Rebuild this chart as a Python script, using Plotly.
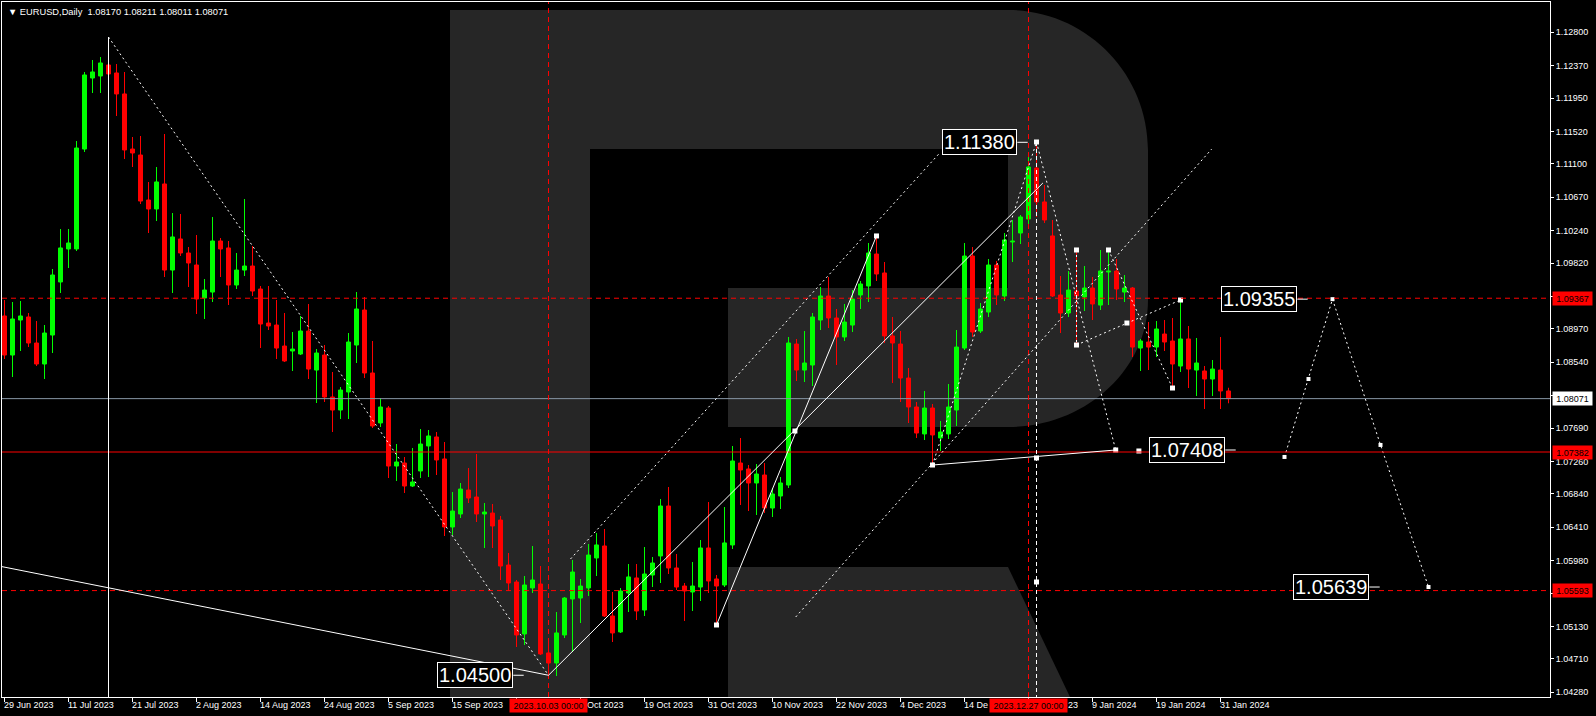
import plotly.graph_objects as go
import numpy as np

# ---------------- data ----------------
title_text = "EURUSD,Daily"
current_ohlc = ["1.08170", "1.08211", "1.08011", "1.08071"]

opens = [1.09138,1.08634,1.09086,1.09125,1.08789,1.08518,1.08892,1.09577,1.10003,1.10003,
 1.11293,1.12210,1.12236,1.12378,1.12275,1.12004,1.11293,1.11216,1.10635,1.10519,
 1.10842,1.09731,1.10132,1.09951,1.09796,1.09370,1.09447,1.10106,1.10016,1.09538,
 1.09731,1.09783,1.09486,1.09047,1.09021,1.08750,1.08686,1.08647,1.08944,1.08440,
 1.08634,1.08092,1.07924,1.08157,1.08763,1.09215,1.08402,1.07757,1.07950,1.07201,
 1.07240,1.06943,1.07137,1.07460,1.07576,1.07292,1.06414,1.06582,1.06891,1.06801,
 1.06582,1.06594,1.06504,1.05923,1.05704,1.05033,1.05627,1.05678,1.04788,1.04658,
 1.05020,1.05485,1.05497,1.05627,1.06014,1.06169,1.05265,1.05059,1.05562,1.05756,
 1.05342,1.05794,1.06040,1.06685,1.05885,1.05652,1.05575,1.05639,1.06143,1.05743,
 1.05665,1.06182,1.07240,1.07163,1.06982,1.07085,1.06659,1.06814,1.06956,1.08776,
 1.08440,1.08505,1.09086,1.09396,1.09112,1.08867,1.09021,1.09409,1.09525,1.09938,
 1.09693,1.08880,1.08776,1.08337,1.07963,1.07615,1.07950,1.07563,1.07615,1.07924,
 1.08724,1.09912,1.08944,1.09189,1.09796,1.09396,1.10093,1.10209,1.10390,1.11048,
 1.10610,1.10171,1.09409,1.09176,1.09460,1.09383,1.09499,1.09279,1.09706,1.09719,
 1.09447,1.09499,1.08724,1.08802,1.08737,1.08905,1.08815,1.08492,1.08841,1.08440,
 1.08428,1.08324,1.08440,1.08170]
highs = [1.09344,1.09318,1.09331,1.09176,1.09073,1.09021,1.09744,1.10261,1.10261,1.11397,
 1.12288,1.12442,1.12481,1.12739,1.12391,1.12288,1.11448,1.11461,1.10868,1.11061,
 1.11487,1.10467,1.10455,1.10028,1.10183,1.09615,1.10416,1.10145,1.10106,1.09951,
 1.10648,1.10041,1.09525,1.09525,1.09344,1.09176,1.08931,1.09138,1.09293,1.08711,
 1.08763,1.08415,1.08221,1.08918,1.09447,1.09383,1.08815,1.08079,1.07976,1.07485,
 1.07318,1.07434,1.07679,1.07666,1.07640,1.07511,1.06866,1.06982,1.07176,1.07356,
 1.06724,1.06711,1.06556,1.06078,1.05730,1.05781,1.06169,1.05910,1.04968,1.05317,
 1.05510,1.05988,1.05743,1.06195,1.06337,1.06388,1.05575,1.05627,1.05936,1.05936,
 1.06156,1.06027,1.06776,1.06930,1.06065,1.05691,1.05962,1.06246,1.06737,1.05794,
 1.06672,1.07460,1.07563,1.07214,1.07227,1.07240,1.06917,1.07059,1.08867,1.08841,
 1.08944,1.09176,1.09512,1.09641,1.09228,1.09293,1.09473,1.09590,1.10080,1.10171,
 1.09835,1.09125,1.08944,1.08466,1.08028,1.08170,1.08002,1.07782,1.08260,1.08957,
 1.10080,1.10028,1.09306,1.09874,1.09848,1.10209,1.10377,1.10442,1.11216,1.11384,
 1.10829,1.10377,1.09654,1.09719,1.09990,1.09783,1.09641,1.09990,1.09990,1.09874,
 1.09667,1.09512,1.08841,1.09060,1.09073,1.09086,1.09112,1.09344,1.09009,1.08854,
 1.08492,1.08570,1.08867,1.08211]
lows = [1.08583,1.08350,1.08686,1.08737,1.08492,1.08324,1.08660,1.09435,1.09757,1.09977,
 1.11255,1.12016,1.12016,1.12236,1.11720,1.11164,1.11061,1.10584,1.10209,1.10364,
 1.09641,1.09435,1.09912,1.09512,1.09163,1.09099,1.09318,1.09641,1.09279,1.09486,
 1.09654,1.09396,1.08724,1.08957,1.08583,1.08544,1.08428,1.08634,1.08324,1.08015,
 1.08028,1.07640,1.07808,1.07808,1.08531,1.08337,1.07692,1.07705,1.07046,1.07008,
 1.06853,1.06930,1.07046,1.07059,1.07085,1.06297,1.06310,1.06530,1.06724,1.06478,
 1.06143,1.06143,1.05730,1.05588,1.04865,1.04891,1.05562,1.04762,1.04478,1.04491,
 1.04981,1.04800,1.05175,1.05523,1.05781,1.05252,1.04929,1.05046,1.05317,1.05213,
 1.05265,1.05639,1.05691,1.05807,1.05601,1.05200,1.05330,1.05459,1.05562,1.05149,
 1.05639,1.06130,1.06698,1.06620,1.06569,1.06594,1.06543,1.06646,1.06917,1.08299,
 1.08286,1.08234,1.08957,1.08983,1.08505,1.08815,1.08931,1.09228,1.09318,1.09590,
 1.08789,1.08273,1.08028,1.07757,1.07563,1.07537,1.07214,1.07395,1.07550,1.07718,
 1.08699,1.08867,1.08918,1.09125,1.09279,1.09331,1.09835,1.10067,1.10274,1.10416,
 1.10338,1.09383,1.08918,1.09125,1.08763,1.09202,1.09086,1.09215,1.09279,1.09344,
 1.09318,1.08609,1.08428,1.08440,1.08609,1.08686,1.08208,1.08415,1.08208,1.08105,
 1.07937,1.08105,1.07937,1.08011]
closes = [1.08634,1.09099,1.09138,1.08789,1.08518,1.08918,1.09667,1.10016,1.10080,1.11306,
 1.12249,1.12288,1.12404,1.12262,1.12004,1.11281,1.11242,1.10622,1.10519,1.10868,
 1.09731,1.10158,1.09951,1.09822,1.09357,1.09473,1.10106,1.10003,1.09538,1.09731,
 1.09783,1.09460,1.09034,1.09009,1.08724,1.08557,1.08711,1.08944,1.08453,1.08660,
 1.08092,1.07924,1.08182,1.08802,1.09228,1.08402,1.07718,1.07963,1.07201,1.07253,
 1.06943,1.06995,1.07485,1.07589,1.07279,1.06414,1.06620,1.06904,1.06788,1.06582,
 1.06607,1.06427,1.05910,1.05691,1.05020,1.05665,1.05730,1.04775,1.04658,1.05046,
 1.05497,1.05833,1.05652,1.06052,1.06182,1.05265,1.05046,1.05588,1.05769,1.05330,
 1.05807,1.05949,1.06685,1.05885,1.05639,1.05588,1.05652,1.06143,1.05717,1.05652,
 1.06208,1.07266,1.07150,1.06982,1.07098,1.06659,1.06840,1.06982,1.08789,1.08440,
 1.08531,1.09125,1.09396,1.09112,1.08867,1.09060,1.09357,1.09551,1.09951,1.09680,
 1.08880,1.08789,1.08337,1.07963,1.07627,1.07950,1.07602,1.07640,1.07963,1.08737,
 1.09912,1.08931,1.09228,1.09796,1.09409,1.10119,1.10106,1.10416,1.11061,1.10610,
 1.10377,1.09396,1.09176,1.09473,1.09396,1.09499,1.09293,1.09719,1.09719,1.09486,
 1.09499,1.08737,1.08815,1.08737,1.08970,1.08802,1.08518,1.08841,1.08453,1.08531,
 1.08324,1.08453,1.08170,1.08071]

# date labels (bar index, visible text, extra pixel shift) - parts hidden by the
# crosshair labels in the original are not shown
date_tick_bars = [0, 8, 16, 24, 32, 40, 48, 56, 64, 72, 80, 88, 96, 104, 112, 120, 128, 136, 144, 152]
date_tick_labels = ["29 Jun 2023", "11 Jul 2023", "21 Jul 2023", "2 Aug 2023", "14 Aug 2023",
                    "24 Aug 2023", "5 Sep 2023", "15 Sep 2023", "", "Oct 2023",
                    "19 Oct 2023", "31 Oct 2023", "10 Nov 2023", "22 Nov 2023", "4 Dec 2023",
                    "14 De", "23", "9 Jan 2024", "19 Jan 2024", "31 Jan 2024"]
date_label_shift = {72: 7, 128: 40}

price_ticks = [1.12800, 1.12370, 1.11950, 1.11520, 1.11100, 1.10670, 1.10240, 1.09820, 1.09390,
               1.08970, 1.08540, 1.08110, 1.07690, 1.07260, 1.06840, 1.06410, 1.05980, 1.05560,
               1.05130, 1.04710, 1.04280]
hidden_price_ticks = [1.09390, 1.08110, 1.05560]

bid_price = 1.08071
level_upper = 1.09367
level_mid = 1.07382
level_lower = 1.05593

crosshair_bars = [68, 128]
crosshair_labels = ["2023.10.03 00:00", "2023.12.27 00:00"]

# projection path (bar index, price)
proj_bars = [160, 163, 166, 172, 178]
proj_prices = [1.07318, 1.08324, 1.09355, 1.07473, 1.05639]

# price labels drawn on chart: (text, price, right-edge bar)
label_values = [("1.11380", 1.11380, 126.6), ("1.04500", 1.04500, 63.6), ("1.09355", 1.09355, 161.6),
                ("1.07408", 1.07408, 152.6), ("1.05639", 1.05639, 170.6)]

# ---------------- geometry helpers ----------------
W, H = 1596, 716
L_M, R_M, T_M, B_M = 2, 46, 2, 19
PW, PH = W - L_M - R_M, H - T_M - B_M
XR = [-0.3125, -0.3125 + PW / 8.0]
YR = [1.042193, 1.131911]

def px(X):
    return (X - L_M) / PW

def py(Y):
    return (H - B_M - Y) / PH

o = np.array(opens); h = np.array(highs); l = np.array(lows); c = np.array(closes)
idx = np.arange(len(o))
up = c >= o
dn = ~up

GREEN = "#00FF00"
RED = "#FF0000"

fig = go.Figure()
for mask, col in ((up, GREEN), (dn, RED)):
    fig.add_trace(go.Bar(x=idx[mask], y=(h - l)[mask], base=l[mask], width=0.125,
                         marker=dict(color=col, line=dict(width=0)), hoverinfo="skip"))
for mask, col in ((up, GREEN), (dn, RED)):
    fig.add_trace(go.Bar(x=idx[mask], y=np.abs(c - o)[mask], base=np.minimum(o, c)[mask], width=0.5,
                         marker=dict(color=col, line=dict(color=col, width=1)), hoverinfo="skip"))

shapes = []

# watermark "R" logo (decorative, paper coordinates)
k = 0.552
path = f"M {px(450)},{py(10)} L {px(1008)},{py(10)} "
path += f"C {px(1008 + k*140)},{py(10)} {px(1148)},{py(150 - k*140)} {px(1148)},{py(150)} "
path += f"L {px(1148)},{py(300)} "
path += f"C {px(1148)},{py(300 + k*127)} {px(1008 + k*140)},{py(427)} {px(1008)},{py(427)} "
path += f"L {px(728)},{py(427)} L {px(728)},{py(288)} L {px(1008)},{py(288)} L {px(1008)},{py(149)} "
path += f"L {px(590)},{py(149)} L {px(590)},{py(697)} L {px(450)},{py(697)} Z"
shapes.append(dict(type="path", xref="paper", yref="paper", path=path,
                   fillcolor="#262626", line=dict(width=0), layer="below"))
leg = (f"M {px(728)},{py(567)} L {px(1008)},{py(567)} L {px(1070)},{py(697)} "
       f"L {px(728)},{py(697)} Z")
shapes.append(dict(type="path", xref="paper", yref="paper", path=leg,
                   fillcolor="#262626", line=dict(width=0), layer="below"))

def hline(p, color, dash="solid"):
    shapes.append(dict(type="line", xref="paper", yref="y", x0=0, x1=1, y0=p, y1=p,
                       line=dict(color=color, width=1, dash=dash), layer="above"))

hline(bid_price, "#8796A5")
hline(level_mid, RED)
hline(level_upper, RED, "5px,4px")
hline(level_lower, RED, "5px,4px")

for b in crosshair_bars:
    shapes.append(dict(type="line", xref="x", yref="paper", x0=b, x1=b, y0=0, y1=1,
                       line=dict(color=RED, width=1, dash="5px,4px"), layer="above"))

def seg(x0, y0, x1, y1, dash="solid", color="white"):
    shapes.append(dict(type="line", xref="x", yref="y", x0=x0, y0=y0, x1=x1, y1=y1,
                       line=dict(color=color, width=1, dash=dash), layer="above"))

DOT = "2px,3px"
ybot = YR[0]
seg(13, highs[13], 13, ybot)                       # vertical at July top
seg(13, highs[13], 68, 1.04500, DOT)                 # fall leg
seg(XR[0], 1.05902, 68, 1.04500)                     # long support line
seg(68, 1.04500, 129.8, 1.10855)                     # growth line
seg(70.75, 1.06001, 116.9, 1.11242, DOT)             # upper channel
seg(89, lows[89], 109, highs[109])                   # inner rise
seg(98.9, 1.05252, 150.9, 1.11293, DOT)              # lower channel
seg(116, lows[116], 129, highs[129], DOT)
seg(129, highs[129], 138.9, 1.07408, DOT)
seg(116, lows[116], 138.9, 1.07408)
seg(129, highs[129], 129, ybot, "4px,3px")
seg(134, highs[134], 134, lows[134], DOT)
seg(134, lows[134], 147, highs[147], DOT)
seg(138, highs[138], 146, lows[146], DOT)

# connectors of the price labels
for txt, p, xb in label_values:
    seg(xb, p, xb + 1.3, p)

fig.add_trace(go.Scatter(x=proj_bars, y=proj_prices, mode="lines+markers",
                         line=dict(color="white", width=1, dash=DOT),
                         marker=dict(symbol="square", size=4, color="white"), hoverinfo="skip"))

mk_x = [89, 98.8, 109, 116, 129, 138.9, 141.8, 129, 134, 134, 138, 140.3, 147, 146, 129]
mk_y = [lows[89], 1.07653, highs[109], lows[116], 1.07305, 1.07408, 1.07395, highs[129],
        highs[134], lows[134], highs[138], 1.09047, highs[147], lows[146], 1.05704]
fig.add_trace(go.Scatter(x=mk_x, y=mk_y, mode="markers",
                         marker=dict(symbol="square", size=5, color="white"), hoverinfo="skip"))

ann = []
FONT = "Liberation Sans, Arial, sans-serif"
ann.append(dict(xref="paper", yref="paper", x=0, y=1, xanchor="left", yanchor="top",
                xshift=4, yshift=-3, showarrow=False,
                text="\u25bc " + title_text + "\u00a0\u00a0" + " ".join(current_ohlc),
                font=dict(family=FONT, size=9.3, color="white")))
for b, t in zip(date_tick_bars, date_tick_labels):
    if not t:
        continue
    ann.append(dict(xref="x", yref="paper", x=b, y=0, xanchor="left", yanchor="top",
                    xshift=-3 + date_label_shift.get(b, 0), yshift=-1, showarrow=False, text=t,
                    font=dict(family=FONT, size=9, color="white")))
for b, t in zip(crosshair_bars, crosshair_labels):
    ann.append(dict(xref="x", yref="paper", x=b, y=0, xanchor="center", yanchor="top",
                    yshift=-1, showarrow=False, text=t, bgcolor=RED, borderpad=0,
                    width=77, height=13, font=dict(family=FONT, size=9, color="black")))
for p, bg in ((level_upper, RED), (bid_price, "white"), (level_mid, RED), (level_lower, RED)):
    ann.append(dict(xref="paper", yref="y", x=1, y=p, xanchor="left", yanchor="middle",
                    xshift=2, showarrow=False, text=f"{p:.5f}", bgcolor=bg, borderpad=0,
                    width=39, height=13, font=dict(family=FONT, size=9, color="black")))
for txt, p, xb in label_values:
    ann.append(dict(xref="x", yref="y", x=xb, y=p, xanchor="right", yanchor="middle",
                    showarrow=False, text=txt, bgcolor="black", bordercolor="white",
                    borderwidth=1, borderpad=1,
                    font=dict(family="Liberation Sans, Arial, sans-serif", size=20,
                              color="white")))

fig.update_layout(
    width=W, height=H, margin=dict(l=L_M, r=R_M, t=T_M, b=B_M),
    paper_bgcolor="black", plot_bgcolor="black", showlegend=False,
    barmode="overlay", hovermode=False, shapes=shapes, annotations=ann,
    xaxis=dict(range=XR, showgrid=False, zeroline=False, showline=True, linecolor="white",
               linewidth=1, mirror=True, tickvals=date_tick_bars, ticks="outside", ticklen=4,
               tickcolor="white", showticklabels=False, fixedrange=True),
    yaxis=dict(range=YR, side="right", showgrid=False, zeroline=False, showline=True,
               linecolor="white", linewidth=1, mirror=True, tickvals=price_ticks,
               ticktext=["" if v in hidden_price_ticks else f"{v:.5f}" for v in price_ticks],
               ticks="outside", ticklen=3,
               tickcolor="white", tickfont=dict(family=FONT, size=9, color="white"),
               fixedrange=True),
)

fig.write_html("out.html", config={"displayModeBar": False, "staticPlot": True},
               post_script="document.body.style.margin='0px';")
